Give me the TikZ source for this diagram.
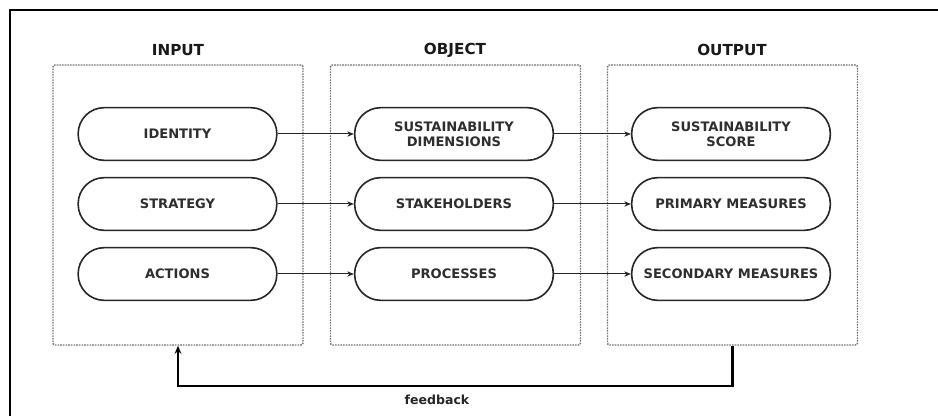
\documentclass[tikz,border=0pt]{standalone}
\usepackage{fontspec}
\setmainfont{DejaVu Sans}
\usetikzlibrary{arrows.meta}
\begin{document}
\begin{tikzpicture}[x=0.75pt,y=-0.75pt,
  frame/.style={line width=1.6pt,black},
  groupbox/.style={draw=black!55,dash pattern=on 1.2pt off 0.8pt,line width=1.1pt,rounded corners=1.5pt,
    minimum width=187.5pt,minimum height=210pt,inner sep=0pt},
  pill/.style={draw=black!85,line width=1.2pt,rounded corners=19.5pt,
    minimum width=149pt,minimum height=39.5pt,inner sep=2pt,align=center,
    font=\fontsize{9.8pt}{11.5pt}\selectfont\bfseries,text=black!82},
  title/.style={font=\fontsize{11.4pt}{13pt}\selectfont\bfseries,text=black!90},
  link/.style={draw=black!85,line width=0.75pt,-{Stealth[length=5pt,width=4pt]}},
  back/.style={draw=black,line width=1.6pt,-{Stealth[length=6pt,width=5pt]}}
]
\useasboundingbox (0,0) rectangle (938,416);
% outer frame (top and left edges)
\draw[frame] (10,416) -- (10,10) -- (938,10);

% column titles
\node[title] (tin)  at (178,50) {INPUT};
\node[title] (tobj) at (455,50) {OBJECT};
\node[title] (tout) at (732,50) {OUTPUT};

% dotted group boxes
\node[groupbox] (inbox)  at (178,205) {};
\node[groupbox] (objbox) at (455.5,205) {};
\node[groupbox] (outbox) at (732.5,205) {};

% input column
\node[pill] (identity) at (177.5,134) {IDENTITY};
\node[pill] (strategy) at (177.5,204) {STRATEGY};
\node[pill] (actions)  at (177.5,274) {ACTIONS};

% object column
\node[pill] (dims)   at (454,134) {SUSTAINABILITY\\DIMENSIONS};
\node[pill] (stake)  at (454,204) {STAKEHOLDERS};
\node[pill] (proc)   at (454,274) {PROCESSES};

% output column
\node[pill] (score)  at (731,134) {SUSTAINABILITY\\SCORE};
\node[pill] (prim)   at (731,204) {PRIMARY MEASURES};
\node[pill] (second) at (731,274) {SECONDARY MEASURES};

% flows
\draw[link] (identity) -- (dims);
\draw[link] (strategy) -- (stake);
\draw[link] (actions)  -- (proc);
\draw[link] (dims)  -- (score);
\draw[link] (stake) -- (prim);
\draw[link] (proc)  -- (second);

% feedback loop
\draw[back] (outbox.south) -- ++(0,40) -| (inbox.south);
\node[font=\fontsize{9.4pt}{11pt}\selectfont\bfseries,text=black!85] (fb) at (437,400) {feedback};
\end{tikzpicture}
\end{document}
